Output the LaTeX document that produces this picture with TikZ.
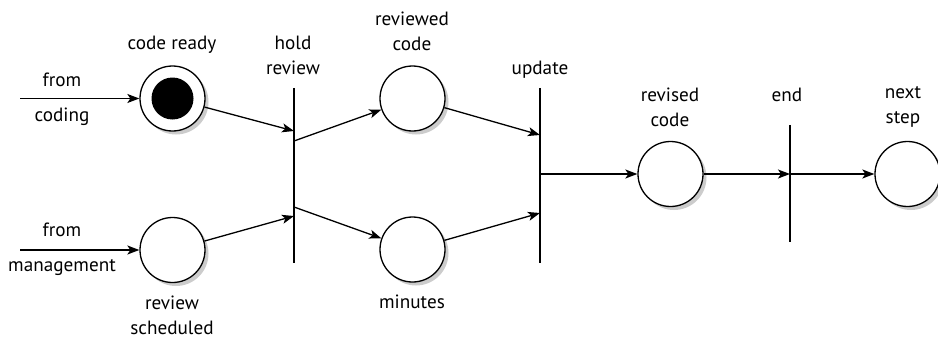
\documentclass[tikz,border=0pt]{standalone}
\usepackage{fontspec}
\setmainfont{PT Sans}
\usetikzlibrary{arrows.meta}
\begin{document}
\begin{tikzpicture}[x=1pt,y=-1pt,
  place/.style={circle, draw, line width=1.3pt, fill=white, minimum size=65pt, inner sep=0pt},
  arr/.style={line width=1.3pt, -{Stealth[length=12pt,width=9pt,inset=3pt]}},
  ln/.style={line width=1.3pt},
  barnode/.style={inner sep=0pt, minimum width=0pt, draw=none},
  lbl/.style={font=\fontsize{19.2}{25}\selectfont, align=center, inner sep=0pt}]
\useasboundingbox (0,0) rectangle (938,340);
% shadows
\foreach \a/\b in {172.5/98.5,172.5/250,412.5/98.5,412.5/249.5,670.5/174,907.5/174}
  \fill[black!20] (\a+3.5,\b+3.5) circle (32.5pt);
% places
\node[place] (cr) at (172.5,98.5) {};
\fill (cr.center) circle (21pt);
\node[place] (rs) at (172.5,250) {};
\node[place] (rv) at (412.5,98.5) {};
\node[place] (mn) at (412.5,249.5) {};
\node[place] (rev) at (670.5,174) {};
\node[place] (nx) at (907.5,174) {};
% bars
\node[barnode, minimum height=175pt] (hold) at (294,175.5) {};
\node[barnode, minimum height=175pt] (upd) at (540,175.5) {};
\node[barnode, minimum height=117pt] (endb) at (790,183.5) {};
\draw[ln] (hold.north) -- (hold.south);
\draw[ln] (upd.north) -- (upd.south);
\draw[ln] (endb.north) -- (endb.south);
% free ends and bar points
\coordinate (fc) at (20,98.5);
\coordinate (fm) at (20,250);
\coordinate (h1) at (294,131);
\coordinate (h2) at (294,216);
\coordinate (h3) at (294,141);
\coordinate (h4) at (294,207);
\coordinate (u1) at (540,135);
\coordinate (u2) at (540,213);
\coordinate (u3) at (540,174);
\coordinate (e1) at (790,174);
% connectors
\draw[arr] (fc) -- (cr);
\draw[arr] (fm) -- (rs);
\draw[arr] (cr) -- (h1);
\draw[arr] (rs) -- (h2);
\draw[arr] (h3) -- (rv);
\draw[arr] (h4) -- (mn);
\draw[arr] (rv) -- (u1);
\draw[arr] (mn) -- (u2);
\draw[arr] (u3) -- (rev);
\draw[arr] (rev) -- (e1);
\draw[arr] (e1) -- (nx);
% labels
\node[lbl] (l1) at (62,80) {from};
\node[lbl] (l2) at (62,117) {coding};
\node[lbl] (l3) at (62,230) {from};
\node[lbl] (l4) at (62,268) {management};
\node[lbl] (l5) at (172,45) {code ready};
\node[lbl] (l6) at (172,315) {review\\scheduled};
\node[lbl] (l7) at (293,55) {hold\\review};
\node[lbl] (l8) at (412,31) {reviewed\\code};
\node[lbl] (l9) at (412,302) {minutes};
\node[lbl] (l10) at (540,70) {update};
\node[lbl] (l11) at (670,107) {revised\\code};
\node[lbl] (l12) at (787,95) {end};
\node[lbl] (l13) at (903,107) {next\\step};
\end{tikzpicture}
\end{document}
